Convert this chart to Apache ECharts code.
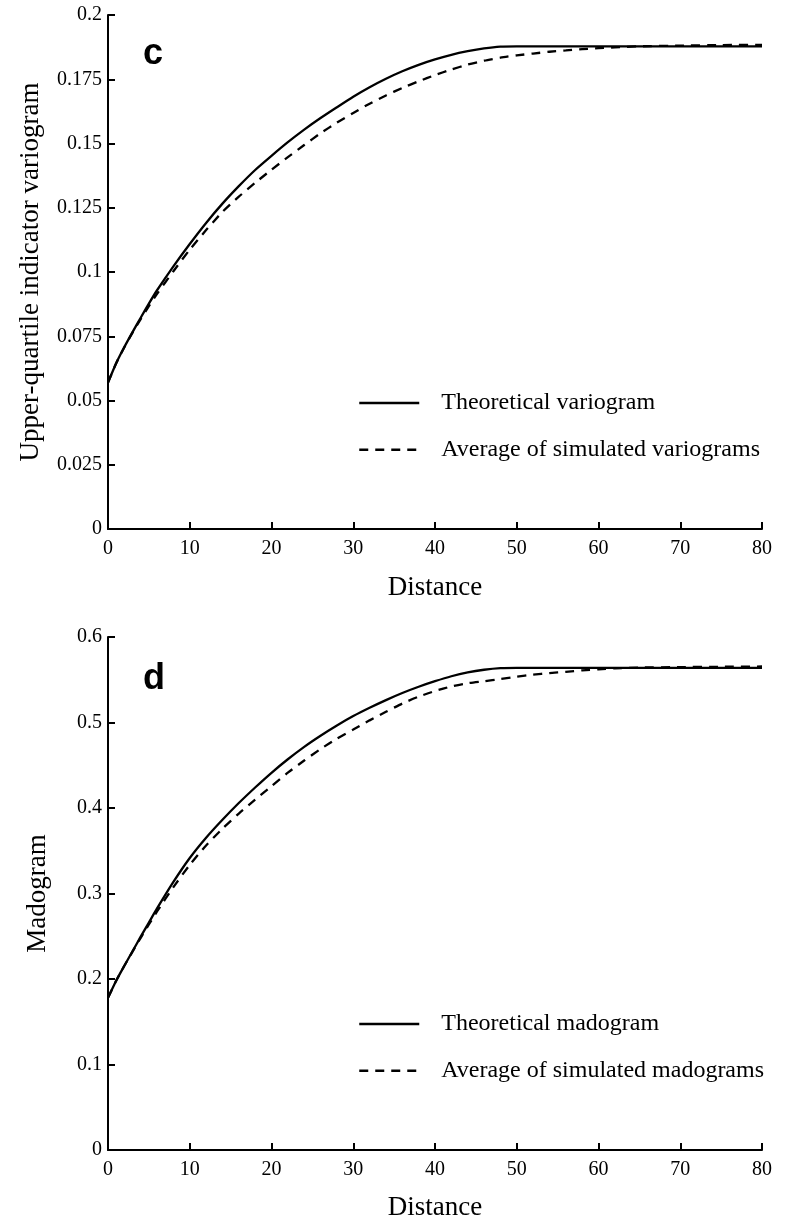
<!DOCTYPE html>
<html>
<head>
<meta charset="utf-8">
<script src="https://cdn.jsdelivr.net/npm/echarts@6/dist/echarts.min.js"></script>
<style>html,body{margin:0;padding:0;background:#fff}#c{width:786px;height:1222px}</style>
</head>
<body>
<div id="c"></div>
<script>
const distance = [0,1,2,3,4,5,6,8,10,12,14,16,18,20,22,24,26,28,30,32,34,36,38,40,42,44,46,48,50,52,54,56,58,60,62,65,70,75,80];
const theoreticalVariogram = [0.057,0.0645,0.0708,0.0766,0.0822,0.0877,0.0929,0.1022,0.1109,0.1191,0.1266,0.1334,0.1397,0.1452,0.1505,0.1554,0.1599,0.1641,0.1682,0.1719,0.1752,0.1781,0.1806,0.1827,0.1845,0.1859,0.1870,0.1877,0.1878,0.1878,0.1878,0.1878,0.1878,0.1878,0.1878,0.1878,0.1878,0.1878,0.1878];
const simulatedVariogram = [0.057,0.0645,0.0707,0.0764,0.0817,0.0867,0.0915,0.1003,0.1087,0.1163,0.1234,0.1293,0.1347,0.1398,0.1447,0.1494,0.154,0.1581,0.1619,0.1655,0.1687,0.1716,0.1742,0.1766,0.1788,0.1807,0.1822,0.1834,0.1843,0.185,0.1857,0.1862,0.1867,0.1871,0.1874,0.1878,0.1881,0.1883,0.1884];
const theoreticalMadogram = [0.178,0.198,0.2155,0.2325,0.2495,0.266,0.2825,0.3135,0.3415,0.3652,0.3862,0.4058,0.424,0.4412,0.457,0.4715,0.4845,0.4965,0.5075,0.5172,0.5262,0.5345,0.5418,0.5483,0.5541,0.5586,0.5617,0.5636,0.564,0.564,0.564,0.564,0.564,0.564,0.564,0.564,0.564,0.564,0.564];
const simulatedMadogram = [0.178,0.198,0.2155,0.232,0.2482,0.2638,0.279,0.3075,0.3335,0.3562,0.3758,0.3935,0.4098,0.4255,0.4413,0.4555,0.469,0.481,0.4917,0.5025,0.5125,0.5222,0.5302,0.5368,0.5422,0.546,0.5483,0.5508,0.5536,0.556,0.5578,0.5593,0.561,0.5623,0.5633,0.5642,0.5648,0.5652,0.5655];
const xTicks = ['0','10','20','30','40','50','60','70','80'];
const yTicksTop = ['0','0.025','0.05','0.075','0.1','0.125','0.15','0.175','0.2'];
const yTicksBottom = ['0','0.1','0.2','0.3','0.4','0.5','0.6'];

const serif = 'Liberation Serif';
const pair = (ys) => distance.map((d, i) => [d, ys[i]]);

function xAxis(gi, gap) {
  return {
    type: 'value', gridIndex: gi, min: 0, max: 80, interval: 10,
    name: 'Distance', nameLocation: 'middle', nameGap: gap,
    nameTextStyle: { fontFamily: serif, fontSize: 27, color: '#000' },
    axisLine: { show: true, lineStyle: { color: '#000', width: 2 } },
    axisTick: { show: true, inside: true, length: 7, lineStyle: { color: '#000', width: 2 } },
    axisLabel: { margin: 10, fontFamily: serif, fontSize: 20, color: '#000',
      formatter: (v) => xTicks[Math.round(v / 10)] },
    splitLine: { show: false }
  };
}
function yAxis(gi, max, interval, labels, name, gap) {
  return {
    type: 'value', gridIndex: gi, min: 0, max: max, interval: interval,
    name: name, nameLocation: 'middle', nameGap: gap, nameRotate: 90,
    nameTextStyle: { fontFamily: serif, fontSize: 27, color: '#000' },
    axisLine: { show: true, lineStyle: { color: '#000', width: 2 } },
    axisTick: { show: true, inside: true, length: 7, lineStyle: { color: '#000', width: 2 } },
    axisLabel: { margin: 6, fontFamily: serif, fontSize: 20, color: '#000',
      formatter: (v) => labels[Math.round(v / interval)] },
    splitLine: { show: false }
  };
}
function line(name, data, gi, dashed) {
  return {
    type: 'line', name: name, xAxisIndex: gi, yAxisIndex: gi, data: data,
    symbol: 'none', smooth: 0.2, silent: true,
    lineStyle: { color: '#000', width: 2.3, type: dashed ? [9, 7] : 'solid' },
    itemStyle: { color: '#000' }
  };
}
function legend(names, top) {
  return {
    orient: 'vertical', left: 358, top: top, padding: 0,
    itemWidth: 60, itemHeight: 14, itemGap: 22.7,
    data: names,
    itemStyle: { color: 'rgba(0,0,0,0)', borderColor: 'rgba(0,0,0,0)', borderWidth: 0, opacity: 0 },
    lineStyle: { color: '#000', width: 2.5 },
    textStyle: { fontFamily: serif, fontSize: 24, lineHeight: 24, color: '#000', padding: [0, 0, 0, 17] },
    selectedMode: false
  };
}

const chart = echarts.init(document.getElementById('c'), null, { renderer: 'canvas' });
chart.setOption({
  backgroundColor: '#fff',
  animation: false,
  grid: [
    { left: 108, top: 15, width: 654, height: 514 },
    { left: 108, top: 637, width: 654, height: 515 }
  ],
  xAxis: [xAxis(0, 45), xAxis(1, 44)],
  yAxis: [
    yAxis(0, 0.2, 0.025, yTicksTop, 'Upper-quartile indicator variogram', 64),
    yAxis(1, 0.6, 0.1, yTicksBottom, 'Madogram', 57)
  ],
  legend: [
    legend(['Theoretical variogram', 'Average of simulated variograms'], 391),
    legend(['Theoretical madogram', 'Average of simulated madograms'], 1012)
  ],
  graphic: [
    { type: 'text', left: 143, top: 36, style: { text: 'c', font: 'bold 36px "Liberation Sans"', fill: '#000' } },
    { type: 'text', left: 143, top: 661, style: { text: 'd', font: 'bold 36px "Liberation Sans"', fill: '#000' } }
  ],
  series: [
    line('Theoretical variogram', pair(theoreticalVariogram), 0, false),
    line('Average of simulated variograms', pair(simulatedVariogram), 0, true),
    line('Theoretical madogram', pair(theoreticalMadogram), 1, false),
    line('Average of simulated madograms', pair(simulatedMadogram), 1, true)
  ]
});
</script>
</body>
</html>
